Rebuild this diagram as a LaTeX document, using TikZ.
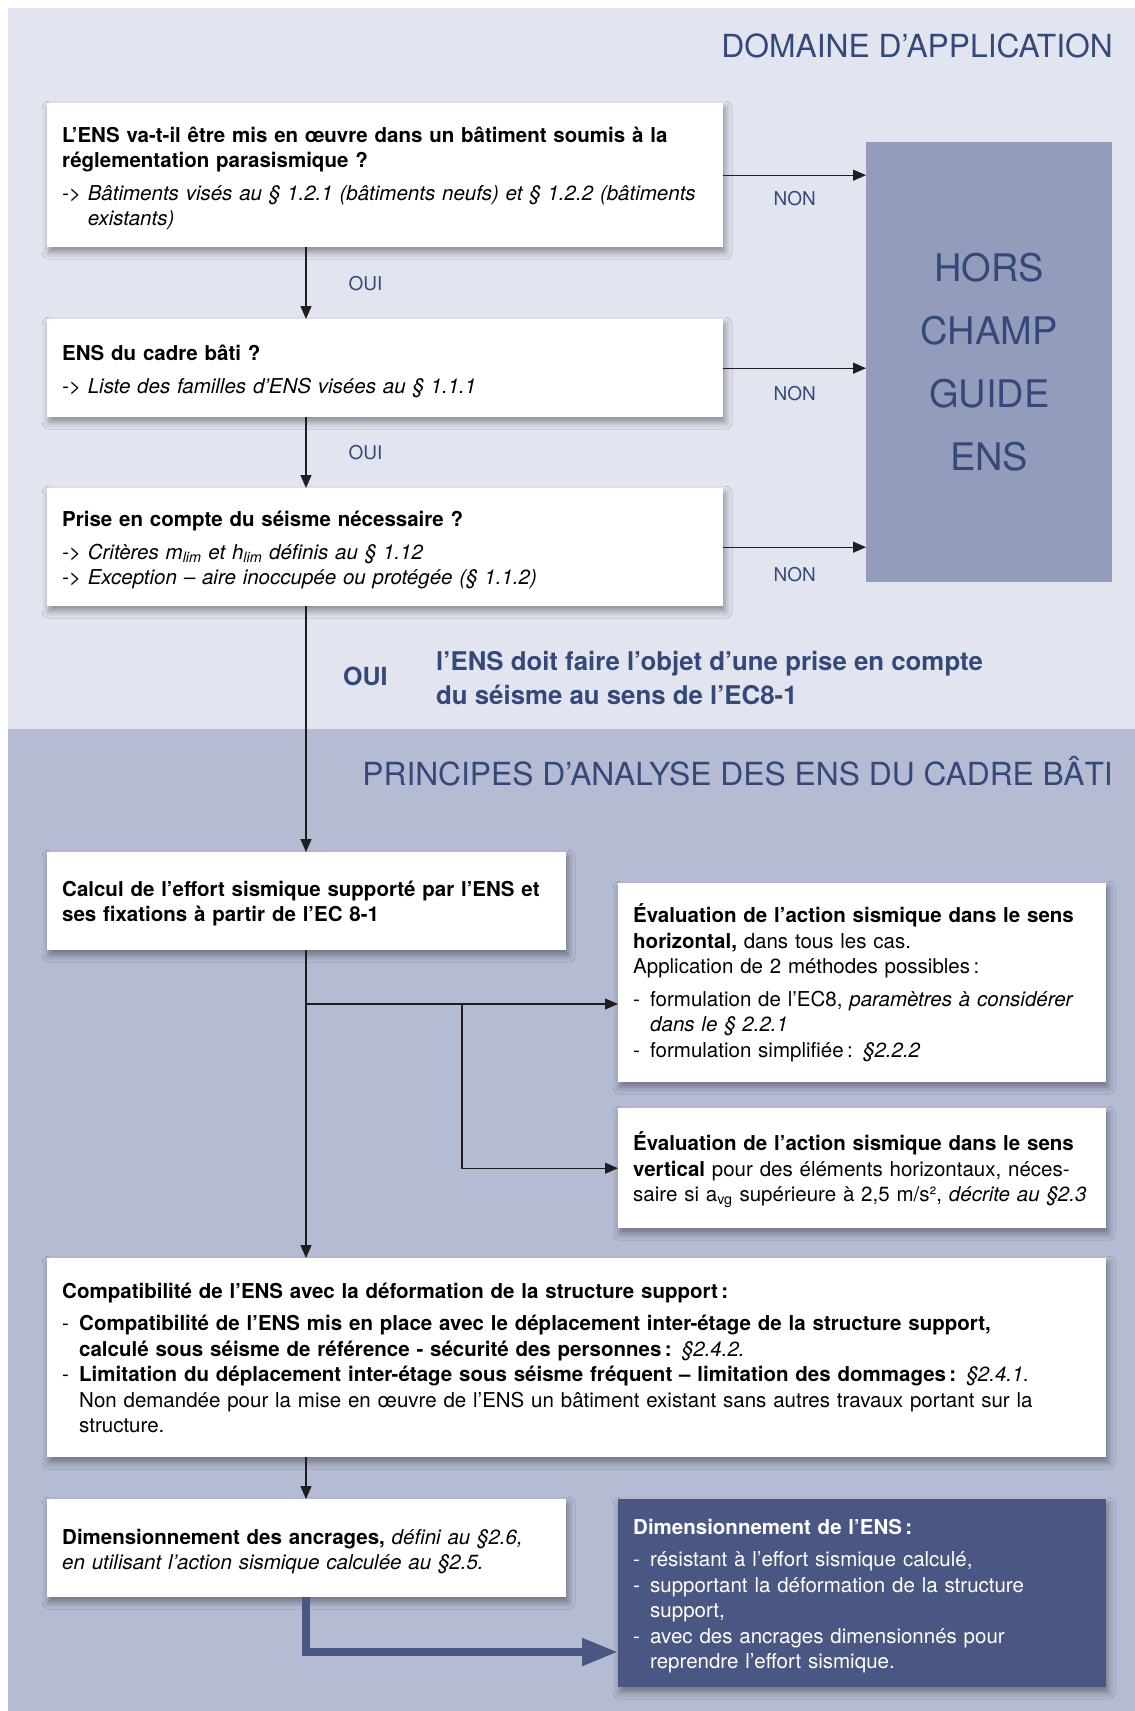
\documentclass[tikz,border=0pt]{standalone}
\usepackage{fontspec}
\setmainfont{TeX Gyre Heros}
\usetikzlibrary{arrows.meta,shadows.blur}

\definecolor{fondhaut}{HTML}{E2E5EF}
\definecolor{fondbas}{HTML}{B5BBD3}
\definecolor{horsgris}{HTML}{939CBB}
\definecolor{bleufonce}{HTML}{4A5783}
\definecolor{bleutitre}{HTML}{34497A}
\definecolor{trait}{HTML}{1E1E1E}

\setlength\parindent{0pt}
\newlength\retrait
% renvoi "->" avec retrait suspendu
\newcommand\renvoi[1]{\settowidth\retrait{\itshape->\ }\hangindent\retrait\hangafter1\textit{->\ #1}\par}
\newcommand\tiret[1]{\hangindent17pt\hangafter1\makebox[17pt][l]{-}#1\par}
\newcommand\saut{\par\vspace{7pt}}

\tikzset{
  boite/.style={fill=white, anchor=north west, inner xsep=15pt, inner ysep=0pt, align=left,
    font=\fontsize{20.5}{25.5}\selectfont,
    blur shadow={shadow xshift=2pt, shadow yshift=-5pt, shadow blur radius=7pt, shadow opacity=40}},
  baisse/.style={execute at begin node={\rule{0pt}{#1}}},
  etiq/.style={text=bleutitre, inner sep=0pt, font=\fontsize{19}{23}\selectfont},
  titre/.style={text=bleutitre, anchor=base east, inner sep=0pt, font=\fontsize{31.8}{36}\selectfont},
  fleche/.style={draw=trait, line width=1.3pt, ->},
  grosse/.style={draw=bleufonce, line width=8pt, -{Triangle[length=36pt,width=26pt]}},
}

\begin{document}
\begin{tikzpicture}[x=1pt, y=-1pt, >={Triangle[length=13pt,width=11pt]}]
  \useasboundingbox (0,0) rectangle (1135,1711);
  \fill[fondhaut] (8,8) rectangle (1135,729);
  \fill[fondbas] (8,729) rectangle (1135,1711);

  % domaine d'application
  \node[titre] (domaine) at (1113,57) {DOMAINE D’APPLICATION};

  \node[boite, baisse=22pt, text width=646pt, minimum height=144pt] (reglement) at (47,103) {%
    \textbf{L’ENS va-t-il être mis en œuvre dans un bâtiment soumis à la\\ réglementation parasismique~?}\saut
    \renvoi{Bâtiments visés au § 1.2.1 (bâtiments neufs) et § 1.2.2 (bâtiments\newline existants)}};
  \node[boite, baisse=21.5pt, text width=646pt, minimum height=98pt] (cadre) at (47,319) {%
    \textbf{ENS du cadre bâti~?}\saut
    \renvoi{Liste des familles d’ENS visées au § 1.1.1}};
  \node[boite, baisse=21.5pt, text width=646pt, minimum height=118pt] (seisme) at (47,488) {%
    \textbf{Prise en compte du séisme nécessaire~?}\saut
    \renvoi{Critères m\textsubscript{lim} et h\textsubscript{lim} définis au § 1.12}
    \renvoi{Exception – aire inoccupée ou protégée (§ 1.1.2)}};

  \node[fill=horsgris, anchor=north west, minimum width=246pt, minimum height=440pt, inner sep=0pt,
    align=center, text=bleutitre, font=\fontsize{38}{63}\selectfont] (hors) at (866,142) {HORS\\CHAMP\\GUIDE\\ENS};

  \coordinate (spine) at (306,0);
  \draw[fleche] (reglement.south -| spine) -- (cadre.north -| spine) node[etiq, midway, right=42pt] (oui1) {OUI};
  \draw[fleche] (cadre.south -| spine) -- (seisme.north -| spine) node[etiq, midway, right=42pt] (oui2) {OUI};
  \foreach \b/\d in {reglement/15pt,cadre/17pt,seisme/19pt}
    \draw[fleche] (\b.east) -- (\b.east -| hors.west) node[etiq, midway, below=\d] (non-\b) {NON};

  \node[etiq, font=\bfseries\fontsize{25}{30}\selectfont, anchor=base west] (oui3) at (343,685) {OUI};
  \node[etiq, font=\bfseries\fontsize{25.8}{34}\selectfont, anchor=west, align=left] (prise) at (436,678)
    {l’ENS doit faire l’objet d’une prise en compte\\du séisme au sens de l’EC8-1};

  % principes d'analyse
  \node[titre] (principes) at (1113,785) {PRINCIPES D’ANALYSE DES ENS DU CADRE BÂTI};

  \node[boite, baisse=20pt, text width=489pt, minimum height=98pt] (calcul) at (47,852) {%
    \textbf{Calcul de l’effort sismique supporté par l’ENS et\\ ses fixations à partir de l’EC 8-1}};
  \node[boite, text width=458pt, minimum height=199pt] (horiz) at (618,883) {%
    \textbf{Évaluation de l’action sismique dans le sens\\ horizontal,} dans tous les cas.\\
    Application de 2 méthodes possibles\,:\saut
    \tiret{formulation de l’EC8, \textit{paramètres à considérer\newline dans le § 2.2.1}}
    \tiret{formulation simplifiée\,: \textit{§2.2.2}}};
  \node[boite, baisse=22pt, text width=458pt, minimum height=120pt] (vert) at (618,1108) {%
    \textbf{Évaluation de l’action sismique dans le sens\\ vertical} pour des éléments horizontaux, néces-\\
    saire si a\textsubscript{vg} supérieure à 2,5 m/s², \textit{décrite au §2.3}};

  \draw[fleche] (seisme.south -| spine) -- (calcul.north -| spine);
  \coordinate (embranchement) at (306,1004);
  \coordinate (fourche) at (462,1004);
  \draw[fleche] (embranchement) -- (horiz.west |- embranchement);
  \draw[fleche] (fourche) |- (vert.west);

  \node[boite, text width=1029pt, minimum height=199pt] (compat) at (47,1258) {%
    \textbf{Compatibilité de l’ENS avec la déformation de la structure support\,:}\saut
    \tiret{\textbf{Compatibilité de l’ENS mis en place avec le déplacement inter-étage de la structure support,\newline
      calculé sous séisme de référence - sécurité des personnes\,:} \textit{§2.4.2.}}
    \tiret{\textbf{Limitation du déplacement inter-étage sous séisme fréquent – limitation des dommages\,:} \textit{§2.4.1.}\newline
      Non demandée pour la mise en œuvre de l’ENS un bâtiment existant sans autres travaux portant sur la\newline structure.}};
  \draw[fleche] (calcul.south -| spine) -- (compat.north -| spine);

  \node[boite, baisse=21.5pt, text width=489pt, minimum height=98pt] (ancrage) at (47,1499) {%
    \textbf{Dimensionnement des ancrages,} \textit{défini au §2.6,\\ en utilisant l’action sismique calculée au §2.5.}};
  \node[boite, baisse=21.5pt, fill=bleufonce, text=white, text width=458pt, minimum height=188pt] (dimens) at (618,1499) {%
    \textbf{Dimensionnement de l’ENS\,:}\saut
    \tiret{résistant à l’effort sismique calculé,}
    \tiret{supportant la déformation de la structure\newline support,}
    \tiret{avec des ancrages dimensionnés pour\newline reprendre l’effort sismique.}};
  \draw[fleche] (compat.south -| spine) -- (ancrage.north -| spine);

  \coordinate (coude) at (306,1652);
  \draw[grosse] (ancrage.south -| spine) |- (dimens.west |- coude);
\end{tikzpicture}
\end{document}
